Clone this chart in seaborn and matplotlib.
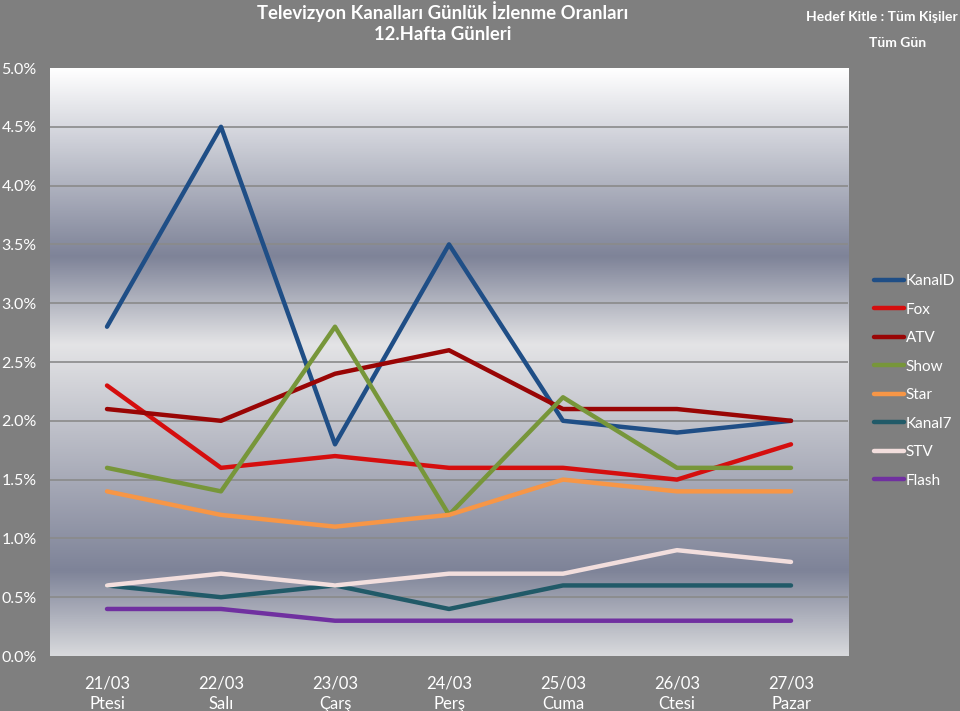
import numpy as np
import pandas as pd
import matplotlib
matplotlib.use("Agg")
import matplotlib.pyplot as plt
from matplotlib.colors import LinearSegmentedColormap
from matplotlib.ticker import FuncFormatter, MultipleLocator
import seaborn as sns

# Data (percent)
dates = ["21/03", "22/03", "23/03", "24/03", "25/03", "26/03", "27/03"]
days = ["Ptesi", "Salı", "Çarş", "Perş", "Cuma", "Ctesi", "Pazar"]
channels = ["KanalD", "Fox", "ATV", "Show", "Star", "Kanal7", "STV", "Flash"]

kanald = [2.8, 4.5, 1.8, 3.5, 2.0, 1.9, 2.0]
fox = [2.3, 1.6, 1.7, 1.6, 1.6, 1.5, 1.8]
atv = [2.1, 2.0, 2.4, 2.6, 2.1, 2.1, 2.0]
show = [1.6, 1.4, 2.8, 1.2, 2.2, 1.6, 1.6]
star = [1.4, 1.2, 1.1, 1.2, 1.5, 1.4, 1.4]
kanal7 = [0.6, 0.5, 0.6, 0.4, 0.6, 0.6, 0.6]
stv = [0.6, 0.7, 0.6, 0.7, 0.7, 0.9, 0.8]
flash = [0.4, 0.4, 0.3, 0.3, 0.3, 0.3, 0.3]

colors = ["#1f4e86", "#d50e0e", "#990505", "#77963a", "#f79646",
          "#215a68", "#f2dedd", "#7030a0"]

series = [kanald, fox, atv, show, star, kanal7, stv, flash]
rows = []
for name, vals in zip(channels, series):
    for i, v in enumerate(vals):
        rows.append({"day": i, "kanal": name, "oran": v})
df = pd.DataFrame(rows)

sns.set_style("white")
plt.rcParams["font.family"] = ["Lato", "DejaVu Sans"]

bg = "#7f7f7f"
fig = plt.figure(figsize=(9.6, 7.11), dpi=100, facecolor=bg)
ax = fig.add_axes([50 / 960, 55 / 711, 798 / 960, 588 / 711])
ax.set_facecolor(bg)

# Background gradient inside the plot area
grad = LinearSegmentedColormap.from_list(
    "chrome",
    [(0.0, "#d8d9dc"), (0.144, "#7e8398"), (0.53, "#e4e4e6"),
     (0.68, "#7e8398"), (1.0, "#ffffff")])
g = np.linspace(0, 1, 256).reshape(-1, 1)
ax.imshow(g, cmap=grad, aspect="auto", origin="lower",
          extent=(-0.5, 6.5, 0, 5), zorder=0)

sns.lineplot(data=df, x="day", y="oran", hue="kanal", hue_order=channels,
             palette=colors, linewidth=3.2, ax=ax, zorder=3,
             solid_capstyle="round")

ax.set_xlim(-0.5, 6.5)
ax.set_ylim(0, 5)
ax.yaxis.set_major_locator(MultipleLocator(0.5))
ax.yaxis.set_major_formatter(FuncFormatter(lambda v, p: f"{v:.1f}%"))
for y in np.arange(0.5, 5.0, 0.5):
    ax.axhline(y, color="#8a8a8a", lw=1.2, zorder=1)

ax.set_xticks(range(len(dates)))
ax.set_xticklabels([f"{d}\n{w}" for d, w in zip(dates, days)],
                   color="white", fontsize=12, linespacing=1.35)
ax.tick_params(axis="x", length=0, pad=14)
ax.tick_params(axis="y", length=0, labelcolor="white", labelsize=11.5, pad=35)
for lbl in ax.get_yticklabels():
    lbl.set_horizontalalignment("left")
ax.set_xlabel("")
ax.set_ylabel("")
for s in ax.spines.values():
    s.set_visible(False)

leg = ax.legend(loc="center left", bbox_to_anchor=(874 / 960, 1 - 381 / 711),
                bbox_transform=fig.transFigure, frameon=False, fontsize=11,
                labelcolor="white", handlelength=1.95, handletextpad=0.12,
                labelspacing=0.95, borderaxespad=0, borderpad=0)
for h in leg.get_lines():
    h.set_linewidth(3.2)

fig.text(443 / 960, 1 - 12 / 711, "Televizyon Kanalları Günlük İzlenme Oranları",
         ha="center", va="center", color="white", fontsize=13.3, fontweight="bold")
fig.text(443 / 960, 1 - 35 / 711, "12.Hafta Günleri",
         ha="center", va="center", color="white", fontsize=13.3, fontweight="bold")
fig.text(958 / 960, 1 - 17 / 711, "Hedef Kitle : Tüm Kişiler", ha="right",
         va="center", color="white", fontsize=10, fontweight="bold")
fig.text(898 / 960, 1 - 43 / 711, "Tüm Gün", ha="center",
         va="center", color="white", fontsize=10, fontweight="bold")

fig.savefig("out.png", dpi=100, facecolor=bg)
